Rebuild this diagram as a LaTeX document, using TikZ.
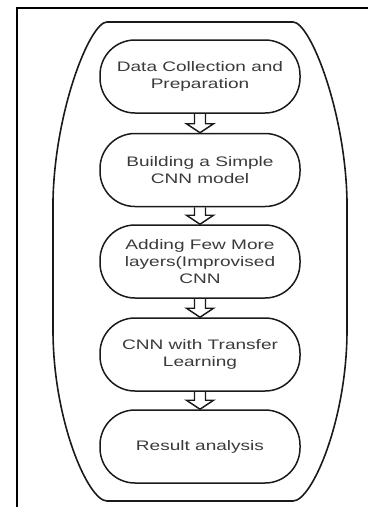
\documentclass[tikz,border=0pt]{standalone}
\usepackage{fontspec}
\setmainfont[FakeStretch=1.38]{Liberation Sans}
\usetikzlibrary{calc}
\definecolor{txt}{HTML}{3A3A3A}
\definecolor{ln}{HTML}{1A1A1A}
\tikzset{
  stage/.style={draw=ln, line width=1.5pt, rounded corners=35pt,
    minimum width=200pt, minimum height=73pt, inner sep=0pt,
    align=center, text=txt,
    font=\fontsize{13.8pt}{17pt}\selectfont},
  blockarrow/.style={draw=ln, line width=1.4pt, line join=miter},
  outline/.style={draw=ln, line width=1.6pt},
  frame/.style={draw=black, line width=2pt}
}
\begin{document}
\begin{tikzpicture}[x=1pt,y=-1pt]
\useasboundingbox (0,0) rectangle (368,507);
% frame
\coordinate (fTR) at (368,7.5);
\coordinate (fTL) at (16.5,7.5);
\coordinate (fBL) at (16.5,507);
\draw[frame] (fTR) -- (fTL) -- (fBL);
% outer container
\draw[outline] (107,22) -- (293,22)
  .. controls (310,22) and (345,110) .. (347,200)
  -- (347,330)
  .. controls (347,420) and (312,501) .. (293,501)
  -- (107,501)
  .. controls (88,501) and (53,420) .. (53,330)
  -- (53,200)
  .. controls (55,110) and (90,22) .. (107,22) -- cycle;
% stages
\node[stage] (n1) at (200,76.5) {Data Collection and\\Preparation};
\node[stage] (n2) at (200,170) {Building a Simple\\CNN model};
\node[stage] (n3) at (200,261.5) {Adding Few More\\layers(Improvised\\CNN};
\node[stage] (n4) at (200,354.5) {CNN with Transfer\\Learning};
\node[stage] (n5) at (200,446.5) {Result analysis};
% block arrows
\foreach \a/\b in {n1/n2,n2/n3,n3/n4,n4/n5}{
  \draw[blockarrow] ([xshift=-5.5pt]\a.south) -- ([xshift=-5.5pt,yshift=9pt]\b.north)
    -- ([xshift=-13.5pt,yshift=9pt]\b.north) -- (\b.north)
    -- ([xshift=13.5pt,yshift=9pt]\b.north) -- ([xshift=5.5pt,yshift=9pt]\b.north)
    -- ([xshift=5.5pt]\a.south);
}
\end{tikzpicture}
\end{document}
